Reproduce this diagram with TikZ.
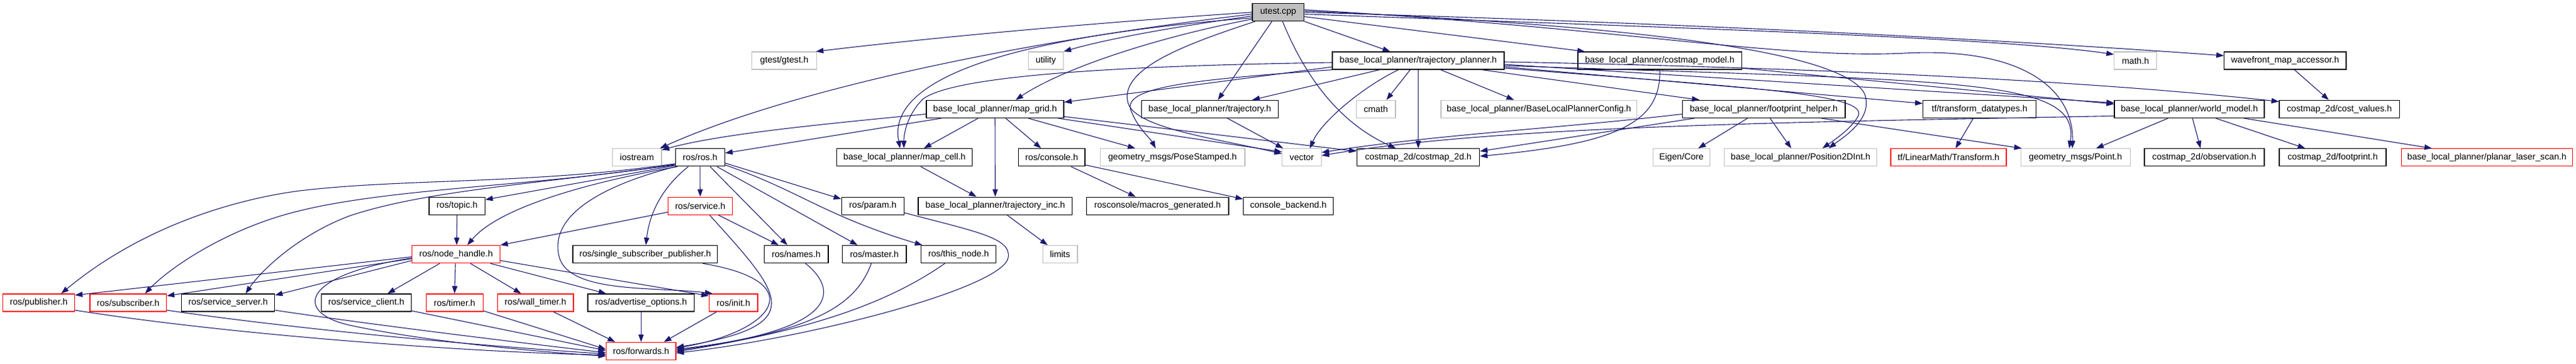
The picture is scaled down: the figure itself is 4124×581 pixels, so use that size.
\documentclass[tikz,border=0pt]{standalone}
\usepackage{fontspec}
\setmainfont{Liberation Sans}
\usetikzlibrary{arrows.meta,calc}
\definecolor{edgec}{HTML}{191970}
\definecolor{grayb}{HTML}{BFBFBF}
\definecolor{redc}{HTML}{FF0000}
\begin{document}
\begin{tikzpicture}[x=1pt,y=-1pt,
 bx/.style={rectangle, inner sep=0pt, minimum height=28pt, line width=1.3pt, font=\fontsize{14.2}{17}\selectfont},
 blk/.style={bx, draw=black},
 gry/.style={bx, draw=grayb},
 redbox/.style={bx, draw=redc},
 rootbox/.style={bx, draw=black, fill=grayb},
 dep/.style={draw=edgec, line width=1.1pt, -{Triangle[length=12pt,width=8.5pt]}}]
\fill[white] (0,0) rectangle (4124,581);
\useasboundingbox (0,0) rectangle (4124,581);
% row 1
\node[rootbox, minimum width=82.6pt] (ut) at (2046.3,19.6) {utest.cpp};
% row 2
\node[gry, minimum width=104pt] (gt) at (1255.6,97) {gtest/gtest.h};
\node[gry, minimum width=55.8pt] (util) at (1674.3,97) {utility};
\node[blk, minimum width=275pt] (tp) at (2270.5,97) {base\_local\_planner/trajectory\_planner.h};
\node[blk, minimum width=262.4pt] (cm) at (2657.1,97) {base\_local\_planner/costmap\_model.h};
\node[gry, minimum width=68pt] (mathh) at (3418.7,97) {math.h};
\node[blk, minimum width=195pt] (wf) at (3658.3,97) {wavefront\_map\_accessor.h};
% row 3
\node[blk, minimum width=220pt] (mg) at (1593,174.4) {base\_local\_planner/map\_grid.h};
\node[blk, minimum width=219.2pt] (tr) at (1936.8,174.4) {base\_local\_planner/trajectory.h};
\node[gry, minimum width=62.5pt] (cmath) at (2202.6,174.4) {cmath};
\node[gry, minimum width=313.4pt] (blpc) at (2463.8,174.4) {base\_local\_planner/BaseLocalPlannerConfig.h};
\node[blk, minimum width=260.7pt] (fh) at (2823.7,174.4) {base\_local\_planner/footprint\_helper.h};
\node[blk, minimum width=181pt] (tfd) at (3169.1,174.4) {tf/transform\_datatypes.h};
\node[blk, minimum width=240pt] (wm) at (3505,174.4) {base\_local\_planner/world\_model.h};
\node[blk, minimum width=192pt] (cv) at (3745.1,174.4) {costmap\_2d/cost\_values.h};
% row 4
\node[gry, minimum width=78.5pt] (ios) at (1019.6,251.8) {iostream};
\node[blk, minimum width=79pt] (ros) at (1120.8,251.8) {ros/ros.h};
\node[blk, minimum width=217.4pt] (mc) at (1448,251.8) {base\_local\_planner/map\_cell.h};
\node[blk, minimum width=106.6pt] (con) at (1683.7,251.8) {ros/console.h};
\node[gry, minimum width=231.7pt] (ps) at (1877,251.8) {geometry\_msgs/PoseStamped.h};
\node[gry, minimum width=62.5pt] (vec) at (2084,251.8) {vector};
\node[blk, minimum width=196.5pt] (c2d) at (2270.5,251.8) {costmap\_2d/costmap\_2d.h};
\node[gry, minimum width=90.8pt] (eig) at (2691.8,251.8) {Eigen/Core};
\node[gry, minimum width=244pt] (p2d) at (2882.6,251.8) {base\_local\_planner/Position2DInt.h};
\node[redbox, minimum width=185pt] (lmt) at (3119.6,251.8) {tf/LinearMath/Transform.h};
\node[gry, minimum width=175pt] (pt) at (3322.7,251.8) {geometry\_msgs/Point.h};
\node[blk, minimum width=192pt] (obs) at (3528.9,251.8) {costmap\_2d/observation.h};
\node[blk, minimum width=170.8pt] (fp) at (3734.5,251.8) {costmap\_2d/footprint.h};
\node[redbox, minimum width=274.4pt] (pls) at (3981.3,251.8) {base\_local\_planner/planar\_laser\_scan.h};
% row 5
\node[blk, minimum width=89.3pt] (topic) at (731.7,329.2) {ros/topic.h};
\node[redbox, minimum width=102.7pt] (srv) at (1121,329.2) {ros/service.h};
\node[blk, minimum width=100pt] (param) at (1397.3,329.2) {ros/param.h};
\node[blk, minimum width=246.4pt] (tinc) at (1593.3,329.2) {base\_local\_planner/trajectory\_inc.h};
\node[blk, minimum width=227.7pt] (macg) at (1853.2,329.2) {rosconsole/macros\_generated.h};
\node[blk, minimum width=143.8pt] (cbk) at (2062.5,329.2) {console\_backend.h};
% row 6
\node[redbox, minimum width=140.6pt] (nh) at (730.1,406.6) {ros/node\_handle.h};
\node[blk, minimum width=231.7pt] (ssp) at (1032.9,406.6) {ros/single\_subscriber\_publisher.h};
\node[blk, minimum width=102.7pt] (names) at (1274.6,406.6) {ros/names.h};
\node[blk, minimum width=102.2pt] (master) at (1399.8,406.6) {ros/master.h};
\node[blk, minimum width=120pt] (thisn) at (1534.6,406.6) {ros/this\_node.h};
\node[gry, minimum width=55.8pt] (limits) at (1697.1,406.6) {limits};
% row 7
\node[redbox, minimum width=115pt] (pub) at (62,484) {ros/publisher.h};
\node[redbox, minimum width=122.7pt] (sub) at (205.2,484) {ros/subscriber.h};
\node[blk, minimum width=149pt] (ssrv) at (365.2,484) {ros/service\_server.h};
\node[blk, minimum width=144.2pt] (scli) at (586.4,484) {ros/service\_client.h};
\node[redbox, minimum width=91pt] (timer) at (727.7,484) {ros/timer.h};
\node[redbox, minimum width=121.5pt] (wtimer) at (857.2,484) {ros/wall\_timer.h};
\node[blk, minimum width=170.6pt] (adv) at (1026.3,484) {ros/advertise\_options.h};
\node[redbox, minimum width=77.7pt] (init) at (1174.2,484) {ros/init.h};
% row 8
\node[redbox, minimum width=111.6pt] (fwd) at (1026.3,561.4) {ros/forwards.h};

% ---------- edges from utest.cpp
\draw[dep] (ut.west) .. controls (1700,40) and (1450,65) .. ($(gt.north east)+(-2,0)$);
\draw[dep] ($(ut.west)+(0,3)$) .. controls (1600,70) and (1250,150) .. ($(ios.north east)+(-3,0)$);
\draw[dep] ($(ut.west)+(0,6)$) .. controls (1900,40) and (1780,60) .. (util.north east);
\draw[dep] ($(ut.west)+(0,9)$) .. controls (1600,60) and (1420,130) .. ($(mc.north)+(-7,0)$);
\draw[dep] ($(ut.west)+(0,11)$) .. controls (1850,60) and (1700,110) .. ($(mg.north)+(33,0)$);
\draw[dep] ($(ut.south west)+(5,0)$) .. controls (1900,70) and (1790,110) .. (1806,165) .. controls (1818,205) and (1950,222) .. ($(vec.west)+(0,-6)$);
\draw[dep] ($(ut.south)+(-10,0)$) -- ($(tr.north)+(13,0)$);
\draw[dep] ($(ut.south)+(7,0)$) .. controls (2080,100) and (2130,190) .. ($(c2d.north)+(-36,0)$);
\draw[dep] (ut.south east) -- ($(tp.north)+(-45,0)$);
\draw[dep] ($(ut.east)+(0,7)$) -- ($(cm.north west)+(12,0)$);
\draw[dep] ($(ut.east)+(0,3)$) .. controls (2700,45) and (3200,60) .. ($(mathh.west)+(0,-10)$);
\draw[dep] (ut.east) .. controls (2800,40) and (3300,70) .. ($(wf.west)+(0,-8)$);
\draw[dep] ($(ut.east)+(0,-4)$) .. controls (2600,45) and (2850,95) .. (3050,85) .. controls (3250,75) and (3320,150) .. ($(pt.north)+(-5,0)$);
\draw[dep] ($(ut.east)+(0,-2)$) .. controls (2600,40) and (2950,80) .. (2985,150) .. controls (3000,190) and (2950,220) .. ($(p2d.north)+(45,0)$);

% ---------- edges from trajectory_planner.h
\draw[dep] ($(tp.west)+(0,3)$) .. controls (1800,105) and (1530,120) .. (1478,158) .. controls (1455,180) and (1447,210) .. ($(mc.north)+(-1,0)$);
\draw[dep] ($(tp.west)+(0,10)$) -- ($(mg.east)+(0,-11)$);
\draw[dep] (tp.south west) .. controls (1900,128) and (1790,140) .. (1812,180) .. controls (1822,205) and (1842,222) .. ($(ps.north)+(-27,0)$);
\draw[dep] ($(tp.south west)+(76,0)$) -- ($(tr.north)+(68,0)$);
\draw[dep] ($(tp.south)+(-32,0)$) .. controls (2180,140) and (2115,195) .. ($(vec.north)+(13,0)$);
\draw[dep] ($(tp.south)+(-13,0)$) -- ($(cmath.north)+(17,0)$);
\draw[dep] (tp.south) -- (c2d.north);
\draw[dep] ($(tp.south)+(36,0)$) -- ($(blpc.north)+(-40,0)$);
\draw[dep] ($(tp.south east)+(-36,0)$) -- ($(fh.north west)+(28,0)$);
\draw[dep] ($(tp.east)+(0,10)$) -- ($(tfd.west)+(0,-9)$);
\draw[dep] ($(tp.east)+(0,6)$) -- ($(wm.west)+(0,-10)$);
\draw[dep] ($(tp.east)+(0,2)$) .. controls (3000,110) and (3400,135) .. ($(cv.west)+(0,-12)$);
\draw[dep] ($(tp.east)+(0,12)$) .. controls (2800,140) and (2990,150) .. (2975,185) .. controls (2965,205) and (2935,225) .. ($(p2d.north)+(35,0)$);
\draw[dep] ($(tp.east)+(0,8)$) .. controls (3150,130) and (3330,125) .. ($(pt.north)+(-10,0)$);

% ---------- costmap_model.h
\draw[dep] (cm.south) .. controls (2660,200) and (2580,230) .. ($(c2d.east)+(0,-2)$);
\draw[dep] ($(cm.east)+(0,12)$) -- ($(wm.west)+(0,-8)$);

% ---------- footprint_helper.h
\draw[dep] ($(fh.south)+(-26,0)$) -- ($(eig.north)+(27,0)$);
\draw[dep] ($(fh.south)+(10,0)$) -- ($(p2d.north)+(-15,0)$);
\draw[dep] ($(fh.south)+(92,0)$) -- ($(pt.north west)+(2,0)$);
\draw[dep] ($(fh.west)+(0,8)$) .. controls (2500,205) and (2300,215) .. ($(vec.east)+(0,-8)$);
\draw[dep] ($(fh.south west)+(20,0)$) -- ($(c2d.east)+(0,-10)$);

% ---------- world_model.h
\draw[dep] ($(wm.west)+(0,11)$) .. controls (2900,195) and (2400,200) .. ($(vec.east)+(0,-3)$);
\draw[dep] ($(wm.south)+(-34,0)$) -- ($(pt.north east)+(-55,0)$);
\draw[dep] ($(wm.south)+(5,0)$) -- ($(obs.north)+(-6,0)$);
\draw[dep] ($(wm.south)+(42,0)$) -- ($(fp.north)+(-44,0)$);
\draw[dep] ($(wm.south)+(87,0)$) -- ($(pls.north)+(-88,0)$);

% ---------- wavefront, transform_datatypes
\draw[dep] ($(wf.south)+(15,0)$) -- ($(cv.north)+(-17,0)$);
\draw[dep] ($(tfd.south)+(-10,0)$) -- ($(lmt.north)+(11,0)$);

% ---------- map_grid.h
\draw[dep] ($(mg.west)+(0,8)$) .. controls (1300,200) and (1150,215) .. ($(ios.east)+(0,-12)$);
\draw[dep] ($(mg.south west)+(25,0)$) -- ($(ros.east)+(0,-7)$);
\draw[dep] ($(mg.south)+(-27,0)$) -- ($(mc.north)+(31,0)$);
\draw[dep] (mg.south) -- (tinc.north);
\draw[dep] ($(mg.south)+(17,0)$) -- ($(con.north)+(-17,0)$);
\draw[dep] ($(mg.south)+(53,0)$) -- ($(ps.north west)+(57,0)$);
\draw[dep] ($(mg.south east)+(-10,0)$) -- ($(vec.west)+(0,-9)$);
\draw[dep] ($(mg.east)+(0,12)$) -- ($(c2d.west)+(0,-10)$);

% ---------- trajectory.h, map_cell.h, console.h, trajectory_inc.h
\draw[dep] ($(tr.south)+(28,0)$) -- ($(vec.north west)+(2,0)$);
\draw[dep] ($(mc.south)+(26,0)$) -- ($(tinc.north)+(-30,0)$);
\draw[dep] ($(con.south)+(31,0)$) -- ($(macg.north)+(-35,0)$);
\draw[dep] ($(con.east)+(0,12)$) -- ($(cbk.west)+(0,-11)$);
\draw[dep] ($(tinc.south)+(19,0)$) -- ($(limits.north)+(-20,0)$);

% ---------- ros/ros.h
\draw[dep] ($(ros.west)+(0,10)$) .. controls (850,295) and (650,285) .. (480,305) .. controls (380,318) and (230,360) .. ($(pub.north)+(36,0)$);
\draw[dep] ($(ros.west)+(0,11)$) .. controls (850,300) and (600,300) .. (450,345) .. controls (350,375) and (270,430) .. ($(sub.north)+(27,0)$);
\draw[dep] ($(ros.west)+(0,12)$) .. controls (850,295) and (680,305) .. (560,345) .. controls (480,375) and (420,430) .. ($(ssrv.north)+(28,0)$);
\draw[dep] ($(ros.west)+(0,13)$) -- ($(topic.east)+(0,-10)$);
\draw[dep] ($(ros.south west)+(4,0)$) .. controls (950,290) and (800,330) .. ($(nh.north)+(18,0)$);
\draw[dep] ($(ros.south)+(-19,0)$) .. controls (1060,300) and (1040,340) .. ($(ssp.north)+(1,0)$);
\draw[dep] (ros.south) -- (srv.north);
\draw[dep] ($(ros.south)+(16,0)$) -- ($(names.north)+(-14,0)$);
\draw[dep] ($(ros.south)+(27,0)$) -- ($(master.north)+(-27,0)$);
\draw[dep] ($(ros.east)+(0,12)$) .. controls (1280,305) and (1320,345) .. ($(thisn.north)+(-58,0)$);
\draw[dep] ($(ros.east)+(0,9)$) -- ($(param.west)+(0,-11)$);
\draw[dep] ($(ros.south west)+(1,0)$) .. controls (950,300) and (880,350) .. (895,410) .. controls (910,470) and (1050,458) .. ($(init.north west)+(6,0)$);

% ---------- ros/service.h, ros/topic.h
\draw[dep] ($(srv.west)+(0,10)$) -- (nh.north east);
\draw[dep] ($(srv.south)+(29,0)$) -- ($(names.north)+(-28,0)$);
\draw[dep] ($(srv.south)+(15,0)$) .. controls (1250,470) and (1300,520) .. ($(fwd.east)+(0,-6)$);
\draw[dep] (topic.south) -- ($(nh.north)+(1,0)$);

% ---------- ros/node_handle.h
\draw[dep] ($(nh.west)+(0,4)$) -- ($(pub.east)+(0,-12)$);
\draw[dep] ($(nh.west)+(0,7)$) -- ($(sub.east)+(0,-11)$);
\draw[dep] ($(nh.west)+(0,10)$) -- ($(ssrv.east)+(0,-12)$);
\draw[dep] ($(nh.west)+(0,6)$) .. controls (480,440) and (470,500) .. (560,520) .. controls (700,550) and (900,565) .. ($(fwd.west)+(0,8)$);
\draw[dep] ($(nh.south)+(-26,0)$) -- ($(scli.north)+(34,0)$);
\draw[dep] ($(nh.south)+(-1,0)$) -- (timer.north);
\draw[dep] ($(nh.south)+(23,0)$) -- ($(wtimer.north)+(-23,0)$);
\draw[dep] ($(nh.south)+(55,0)$) -- ($(adv.north west)+(30,0)$);
\draw[dep] ($(nh.east)+(0,10)$) -- ($(init.west)+(0,-11)$);

% ---------- into ros/forwards.h
\draw[dep] ($(pub.east)+(0,12)$) .. controls (400,540) and (800,565) .. ($(fwd.west)+(0,6)$);
\draw[dep] ($(sub.east)+(0,12)$) .. controls (500,530) and (800,555) .. ($(fwd.west)+(0,4.5)$);
\draw[dep] ($(ssrv.east)+(0,12)$) .. controls (600,520) and (850,550) .. ($(fwd.west)+(0,2.5)$);
\draw[dep] ($(scli.east)+(0,13)$) -- ($(fwd.west)+(0,-1)$);
\draw[dep] ($(timer.east)+(0,13)$) -- ($(fwd.west)+(0,-3)$);
\draw[dep] ($(wtimer.south)+(29,0)$) -- ($(fwd.north west)+(15,0)$);
\draw[dep] (adv.south) -- (fwd.north);
\draw[dep] ($(init.south)+(-27,0)$) -- ($(fwd.north east)+(-20,0)$);
\draw[dep] ($(ssp.south)+(92,0)$) .. controls (1300,450) and (1240,530) .. ($(fwd.east)+(0,-5)$);
\draw[dep] ($(names.south)+(15,0)$) .. controls (1350,470) and (1330,530) .. ($(fwd.east)+(0,-3)$);
\draw[dep] ($(master.south)+(-5,0)$) .. controls (1370,490) and (1300,530) .. ($(fwd.east)+(0,-1)$);
\draw[dep] ($(thisn.south)+(-22,0)$) .. controls (1400,500) and (1250,535) .. ($(fwd.east)+(0,1)$);
\draw[dep] ($(param.east)+(0,11)$) .. controls (1560,370) and (1620,380) .. (1614,412) .. controls (1605,460) and (1300,540) .. ($(fwd.east)+(0,3)$);
\end{tikzpicture}
\end{document}
